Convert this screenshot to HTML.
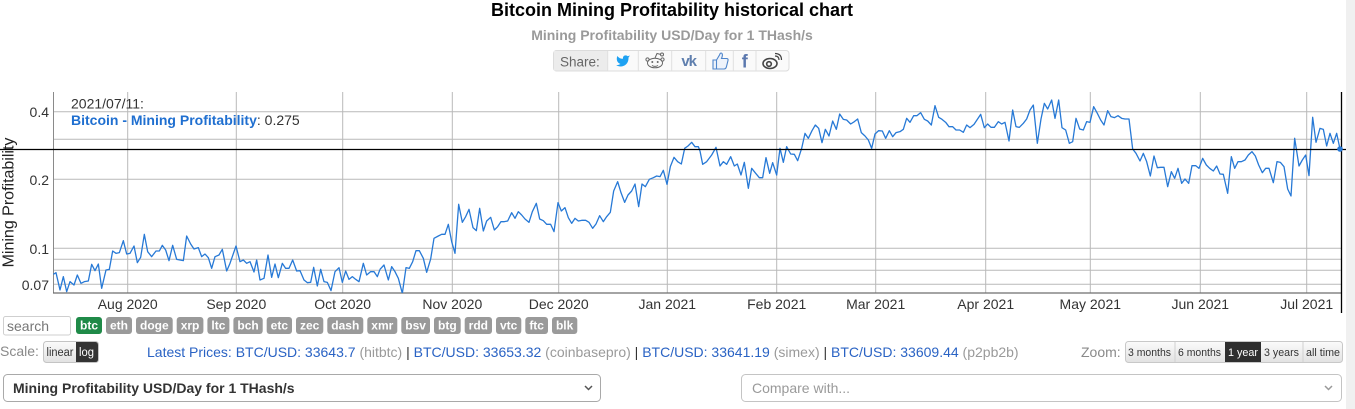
<!DOCTYPE html>
<html><head><meta charset="utf-8"><style>
html,body{margin:0;padding:0;background:#fff;width:1355px;height:409px;overflow:hidden}
svg{display:block;font-family:"Liberation Sans",Arial,sans-serif}
</style></head><body>
<svg width="1355" height="409" viewBox="0 0 1355 409" xmlns="http://www.w3.org/2000/svg">
<defs>
<clipPath id="pc"><rect x="53" y="92" width="1288" height="201"/></clipPath>
<linearGradient id="bg" x1="0" y1="0" x2="0" y2="1"><stop offset="0" stop-color="#fbfbfb"/><stop offset="1" stop-color="#e2e2e2"/></linearGradient>
</defs>
<rect x="1346" y="0" width="9" height="409" fill="#f0f0f0"/>
<text x="672" y="16" text-anchor="middle" font-size="18" font-weight="bold" fill="#000">Bitcoin Mining Profitability historical chart</text>
<text x="672" y="40" text-anchor="middle" font-size="14" font-weight="bold" fill="#9a9a9a">Mining Profitability USD/Day for 1 THash/s</text>
<g>
<rect x="553.5" y="50.5" width="235.5" height="20.5" rx="3" fill="#fafafa" stroke="#dcdcdc"/>
<rect x="554" y="51" width="53.5" height="19.5" fill="#ececec"/>
<text x="560" y="66.5" font-size="13.5" fill="#666">Share:</text>
<g stroke="#e0e0e0"><line x1="607.7" y1="51" x2="607.7" y2="71"/><line x1="638.3" y1="51" x2="638.3" y2="71"/><line x1="671.7" y1="51" x2="671.7" y2="71"/><line x1="705.7" y1="51" x2="705.7" y2="71"/><line x1="733.3" y1="51" x2="733.3" y2="71"/><line x1="756" y1="51" x2="756" y2="71"/></g>
<path transform="translate(615.5,53.5) scale(0.62)" d="M23 3a10.9 10.9 0 0 1-3.14 1.53 4.48 4.48 0 0 0-7.86 3v1A10.66 10.66 0 0 1 3 4s-4 9 5 13a11.64 11.64 0 0 1-7 2c9 5 20 0 20-11.5a4.5 4.5 0 0 0-.08-.83A7.72 7.72 0 0 0 23 3z" fill="#1da1f2"/>
<g fill="none" stroke="#666" stroke-width="1"><ellipse cx="655" cy="63" rx="7.5" ry="4.8"/><path d="M655 58 L657 53.5 L661 54.5"/><circle cx="662" cy="54.5" r="1.5"/><circle cx="647.5" cy="59.5" r="1.6"/><circle cx="662.5" cy="59.5" r="1.6"/><path d="M652 65.5 q3 1.8 6 0"/></g>
<circle cx="652.3" cy="62" r="1" fill="#666"/><circle cx="657.7" cy="62" r="1" fill="#666"/>
<text x="688.7" y="66" text-anchor="middle" font-size="15" font-weight="bold" fill="#5f7fae" letter-spacing="-1">vk</text>
<path d="M713 60 h3.5 v9 h-3.5 z M716.5 60 l3-5 q1-3 2.5-1.5 q1 1.5 -0.5 5 h5 q2 0 1.5 2 l-1.5 6 q-0.5 2.5 -2.5 2.5 h-7.5 z" fill="#eef3fb" stroke="#4f86cc" stroke-width="1.1"/>
<text x="744.7" y="67.5" text-anchor="middle" font-size="18" font-weight="bold" fill="#5b78ae">f</text>
<g fill="none" stroke="#444" stroke-width="1.6"><ellipse cx="770" cy="63.5" rx="7" ry="5"/><circle cx="769" cy="64" r="2.3"/><path d="M775 56 q4 0 4 4" stroke-width="1.2"/><path d="M775 53.5 q6.5 0 6.5 6.5" stroke-width="1.2"/></g>
</g>
<g stroke="#b9b9b9" stroke-width="1">
<line x1="53" y1="111.7" x2="1341" y2="111.7"/>
<line x1="53" y1="139.3" x2="1341" y2="139.3"/>
<line x1="53" y1="179.3" x2="1341" y2="179.3"/>
<line x1="53" y1="248.3" x2="1341" y2="248.3"/>
<line x1="53" y1="259.3" x2="1341" y2="259.3"/>
<line x1="53" y1="270.3" x2="1341" y2="270.3"/>
<line x1="53" y1="284.3" x2="1341" y2="284.3"/>
<line x1="127.7" y1="92" x2="127.7" y2="293"/>
<line x1="236.3" y1="92" x2="236.3" y2="293"/>
<line x1="342.7" y1="92" x2="342.7" y2="293"/>
<line x1="452.3" y1="92" x2="452.3" y2="293"/>
<line x1="558.7" y1="92" x2="558.7" y2="293"/>
<line x1="667.3" y1="92" x2="667.3" y2="293"/>
<line x1="776.7" y1="92" x2="776.7" y2="293"/>
<line x1="875.7" y1="92" x2="875.7" y2="293"/>
<line x1="985.7" y1="92" x2="985.7" y2="293"/>
<line x1="1090.3" y1="92" x2="1090.3" y2="293"/>
<line x1="1200.3" y1="92" x2="1200.3" y2="293"/>
<line x1="1306.7" y1="92" x2="1306.7" y2="293"/>
</g>
<line x1="53.5" y1="92" x2="53.5" y2="293" stroke="#8a8a8a"/>
<line x1="53" y1="293" x2="1341" y2="293" stroke="#6e6e6e" stroke-width="1.2"/>
<g font-size="14" fill="#333" text-anchor="end">
<text x="49" y="117">0.4</text><text x="49" y="185">0.2</text><text x="49" y="254">0.1</text><text x="49" y="290">0.07</text>
</g>
<g font-size="14" fill="#333" text-anchor="middle">
<text x="127.7" y="309">Aug 2020</text><text x="236.3" y="309">Sep 2020</text><text x="342.7" y="309">Oct 2020</text><text x="452.3" y="309">Nov 2020</text><text x="558.7" y="309">Dec 2020</text><text x="667.3" y="309">Jan 2021</text><text x="776.7" y="309">Feb 2021</text><text x="875.7" y="309">Mar 2021</text><text x="985.7" y="309">Apr 2021</text><text x="1090.3" y="309">May 2021</text><text x="1200.3" y="309">Jun 2021</text><text x="1306.7" y="309">Jul 2021</text>
</g>
<text transform="translate(13.5,202.5) rotate(-90)" text-anchor="middle" font-size="16" fill="#222">Mining Profitability</text>
<g clip-path="url(#pc)" fill="none" stroke="#2779d6" stroke-width="1.3" stroke-linejoin="round">
<polyline vector-effect="non-scaling-stroke" transform="translate(0,80) scale(0.333333)" points="160,583 168,578 180,630 190,590 200,635 210,605 222,615 232,585 243,610 253,605 265,603 275,553 285,572 295,552 305,625 318,570 328,568 338,513 348,520 358,518 370,482 380,522 390,520 402,498 412,548 422,532 433,463 443,515 455,530 468,513 478,513 487,496 497,510 507,542 518,496 530,538 550,542 560,468 572,492 582,507 595,503 605,530 615,522 625,533 635,565 645,530 657,525 667,508 680,573 690,550 708,498 720,545 730,540 740,550 750,545 762,576 770,540 780,600 792,595 804,525 815,592 825,552 835,593 847,550 857,565 867,565 878,540 890,573 900,572 912,600 922,608 932,607 941,562 952,618 962,568 972,605 982,607 993,632 1005,575 1017,563 1027,607 1037,573 1047,598 1057,590 1067,598 1077,605 1090,550 1100,585 1112,575 1122,575 1132,590 1140,568"/>
<polyline vector-effect="non-scaling-stroke" transform="translate(380,85) scale(0.333333)" points="0,553 12,540 25,585 35,545 45,560 55,580 67,625 78,548 88,550 98,530 108,497 118,497 130,520 140,562 152,522 162,460 175,453 185,448 195,448 205,418 215,470 225,505 236,358 247,412 257,395 267,373 279,428 289,437 299,370 310,438 320,408 332,397 343,435 353,425 363,410 373,410 383,408 395,383 405,400 415,380 425,390 435,402 447,412 457,380 469,355 479,402 490,407 500,418 512,418 522,440 534,353 544,378 555,368 565,398 575,415 585,400 595,408 605,406 617,406 627,412 638,430 648,417 659,392 670,410 680,395 691,382 701,318 713,290 723,323 734,352 744,330 755,318 765,297 776,365 786,297 796,305 808,283 820,278 830,273 840,275 850,256 861,298 871,245 882,217 893,230 904,237 914,190 924,183 935,172 945,185 955,185 960,198"/>
<polyline vector-effect="non-scaling-stroke" transform="translate(700,85) scale(0.333333)" points="0,198 8,238 20,230 35,210 48,187 60,243 70,230 80,238 92,215 103,243 112,237 123,270 133,232 145,310 155,250 167,265 178,278 188,278 198,218 209,265 218,233 230,270 240,190 250,232 260,185 272,207 283,208 293,227 305,190 315,145 325,160 336,137 346,120 356,130 366,173 376,133 387,153 398,108 409,133 419,87 430,103 440,105 452,117 463,110 473,102 484,143 495,153 505,165 515,190 525,147 536,137 547,138 557,160 568,137 578,155 588,143 600,140 610,133 620,100 630,112 641,92 651,92 662,83 673,103 683,108 694,120 705,62 716,97 726,103 737,112 747,125 758,125 768,135 779,135 790,142 800,120 810,128 822,118 832,103 842,88 853,128 863,117 873,127 883,127 895,110 905,117 915,112 927,168 938,75 948,125 958,127 960,125"/>
<polyline vector-effect="non-scaling-stroke" transform="translate(1020,85) scale(0.333333)" points="0,125 10,115 20,102 30,75 40,60 52,175 63,102 73,55 83,72 95,45 105,100 116,45 126,128 137,135 148,175 158,170 168,100 179,132 190,135 200,110 210,112 221,65 232,85 242,105 252,120 263,77 273,95 283,98 294,92 305,100 315,102 327,102 338,192 348,205 360,228 370,205 380,230 391,273 402,213 412,248 422,247 432,247 443,305 454,260 464,280 474,250 485,295 495,282 506,295 516,242 527,242 537,250 548,220 559,240 569,250 580,258 590,243 600,267 610,268 623,325 634,215 644,250 654,230 664,230 675,225 685,210 696,200 706,213 716,240 727,263 737,250 747,250 760,293 771,230 781,232 792,245 803,312 813,333 824,160 837,243 847,225 857,210 867,272 878,97 888,172 900,130 910,133 920,183 930,145 940,175 950,145 960,192"/>
</g>
<line x1="0" y1="149.5" x2="1346" y2="149.5" stroke="#000" stroke-width="1.3"/>
<line x1="1341.5" y1="92" x2="1341.5" y2="313" stroke="#000" stroke-width="1.3"/>
<circle cx="1340" cy="149" r="2.8" fill="#2779d6"/>
<text x="71" y="108.5" font-size="14" fill="#333">2021/07/11:</text>
<text x="71" y="125" font-size="14" fill="#333"><tspan font-weight="bold" fill="#1f6fd0">Bitcoin - Mining Profitability</tspan>: 0.275</text>
<rect x="3.5" y="316.5" width="67" height="18.5" rx="2" fill="#fff" stroke="#cfcfcf"/>
<text x="7" y="331" font-size="14" fill="#777">search</text>
<g font-size="12" font-weight="bold" fill="#fff" text-anchor="middle">
<rect x="76" y="317" width="26" height="17" rx="3" fill="#1f8a48"/><text x="89" y="329.5">btc</text>
<rect x="106" y="317" width="26" height="17" rx="3" fill="#9a9a9a"/><text x="119" y="329.5">eth</text>
<rect x="136" y="317" width="36.7" height="17" rx="3" fill="#9a9a9a"/><text x="154.35" y="329.5">doge</text>
<rect x="176.7" y="317" width="26.7" height="17" rx="3" fill="#9a9a9a"/><text x="190.05" y="329.5">xrp</text>
<rect x="207.4" y="317" width="22" height="17" rx="3" fill="#9a9a9a"/><text x="218.4" y="329.5">ltc</text>
<rect x="233.4" y="317" width="29.3" height="17" rx="3" fill="#9a9a9a"/><text x="248.05" y="329.5">bch</text>
<rect x="266.7" y="317" width="25.3" height="17" rx="3" fill="#9a9a9a"/><text x="279.35" y="329.5">etc</text>
<rect x="296" y="317" width="27.3" height="17" rx="3" fill="#9a9a9a"/><text x="309.65" y="329.5">zec</text>
<rect x="327.3" y="317" width="36" height="17" rx="3" fill="#9a9a9a"/><text x="345.3" y="329.5">dash</text>
<rect x="367.3" y="317" width="30" height="17" rx="3" fill="#9a9a9a"/><text x="382.3" y="329.5">xmr</text>
<rect x="401.3" y="317" width="28.7" height="17" rx="3" fill="#9a9a9a"/><text x="415.65" y="329.5">bsv</text>
<rect x="434" y="317" width="26.7" height="17" rx="3" fill="#9a9a9a"/><text x="447.35" y="329.5">btg</text>
<rect x="464.7" y="317" width="27.3" height="17" rx="3" fill="#9a9a9a"/><text x="478.35" y="329.5">rdd</text>
<rect x="496" y="317" width="25.3" height="17" rx="3" fill="#9a9a9a"/><text x="508.65" y="329.5">vtc</text>
<rect x="525.3" y="317" width="22.7" height="17" rx="3" fill="#9a9a9a"/><text x="536.65" y="329.5">ftc</text>
<rect x="552" y="317" width="25.3" height="17" rx="3" fill="#9a9a9a"/><text x="564.65" y="329.5">blk</text>
</g>
<text x="0" y="356" font-size="14" fill="#8a8a8a">Scale:</text>
<rect x="43.5" y="341.5" width="55" height="21" rx="3" fill="url(#bg)" stroke="#c4c4c4"/>
<path d="M76 342 H95.5 Q98 342 98 345 V359.5 Q98 362 95.5 362 H76 Z" fill="#333"/>
<text x="46.5" y="356" font-size="11.5" fill="#333" textLength="27" lengthAdjust="spacingAndGlyphs">linear</text>
<text x="79" y="356" font-size="11.5" fill="#fff" textLength="15" lengthAdjust="spacingAndGlyphs">log</text>
<text x="147" y="357" font-size="14" fill="#2a63c4">Latest Prices: BTC/USD: 33643.7 <tspan fill="#9a9a9a">(hitbtc)</tspan> <tspan fill="#333">|</tspan> BTC/USD: 33653.32 <tspan fill="#9a9a9a">(coinbasepro)</tspan> <tspan fill="#333">|</tspan> BTC/USD: 33641.19 <tspan fill="#9a9a9a">(simex)</tspan> <tspan fill="#333">|</tspan> BTC/USD: 33609.44 <tspan fill="#9a9a9a">(p2pb2b)</tspan></text>
<text x="1081" y="357" font-size="14" fill="#8a8a8a">Zoom:</text>
<rect x="1125.5" y="341.5" width="217" height="21" rx="3" fill="url(#bg)" stroke="#c8c8c8"/>
<rect x="1225" y="342" width="36" height="20" fill="#2f2f2f"/>
<g stroke="#d0d0d0"><line x1="1175" y1="342" x2="1175" y2="362"/><line x1="1303" y1="342" x2="1303" y2="362"/></g>
<g font-size="11" fill="#333" lengthAdjust="spacingAndGlyphs">
<text x="1128" y="356" textLength="43" lengthAdjust="spacingAndGlyphs">3 months</text>
<text x="1178" y="356" textLength="43" lengthAdjust="spacingAndGlyphs">6 months</text>
<text x="1228" y="356" fill="#fff" textLength="30" lengthAdjust="spacingAndGlyphs">1 year</text>
<text x="1264" y="356" textLength="35" lengthAdjust="spacingAndGlyphs">3 years</text>
<text x="1306" y="356" textLength="34" lengthAdjust="spacingAndGlyphs">all time</text>
</g>
<rect x="3.5" y="374.5" width="597" height="27" rx="4" fill="#fff" stroke="#a9a9a9"/>
<text x="13" y="393" font-size="14" font-weight="bold" fill="#333">Mining Profitability USD/Day for 1 THash/s</text>
<path d="M585 386 l3.5 3.5 l3.5 -3.5" fill="none" stroke="#555" stroke-width="1.5"/>
<rect x="741.5" y="374.5" width="600" height="27" rx="4" fill="#fff" stroke="#c4c4c4"/>
<text x="752" y="393" font-size="14" fill="#9a9a9a">Compare with...</text>
<path d="M1325 386 l3.5 3.5 l3.5 -3.5" fill="none" stroke="#999" stroke-width="1.5"/>
</svg>
</body></html>
